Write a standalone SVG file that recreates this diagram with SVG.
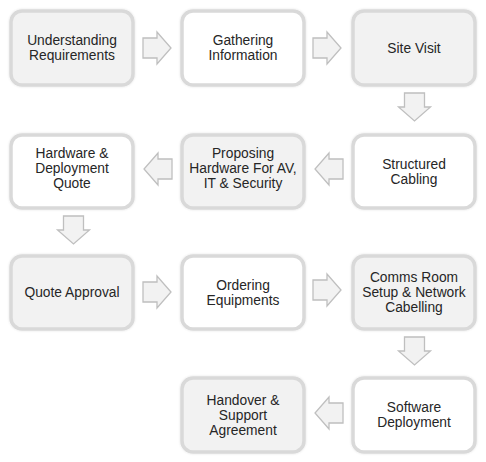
<svg xmlns="http://www.w3.org/2000/svg" width="486" height="462" viewBox="0 0 486 462">
<defs>
<filter id="sh" x="-10%" y="-10%" width="120%" height="120%">
<feGaussianBlur in="SourceAlpha" stdDeviation="1.2" result="b"/>
<feFlood flood-color="#000" flood-opacity="0.12"/>
<feComposite in2="b" operator="in" result="s"/>
<feMerge><feMergeNode in="s"/><feMergeNode in="SourceGraphic"/></feMerge>
</filter>
<path id="ar" d="M0,-10 L14,-10 L14,-16 L28,0 L14,16 L14,10 L0,10 Z"/>
</defs>
<style>
.box{stroke:#d9d9d9;stroke-width:3.5;filter:url(#sh)}
.g{fill:#f2f2f2}
.w{fill:#ffffff}
text{font-family:"Liberation Sans",Arial,sans-serif;font-size:13.8px;fill:#262626;text-anchor:middle}
.arr{fill:#f2f2f2;stroke:#bfbfbf;stroke-width:1.3;stroke-linejoin:miter}
</style>
<rect width="486" height="462" fill="#ffffff"/>
<g id="n1"><rect class="box g" x="11" y="11" width="122" height="74" rx="11"/><text x="72" y="45">Understanding</text><text x="72" y="60">Requirements</text></g>
<g id="n2"><rect class="box w" x="182" y="11" width="122" height="74" rx="11"/><text x="243" y="45">Gathering</text><text x="243" y="60">Information</text></g>
<g id="n3"><rect class="box g" x="353" y="11" width="122" height="74" rx="11"/><text x="414" y="52.5">Site Visit</text></g>
<g id="n4"><rect class="box w" x="353" y="135" width="122" height="73" rx="11"/><text x="414" y="168.5">Structured</text><text x="414" y="183.5">Cabling</text></g>
<g id="n5"><rect class="box g" x="182" y="135" width="122" height="73" rx="11"/><text x="243" y="158">Proposing</text><text x="243" y="173">Hardware For AV,</text><text x="243" y="188">IT &amp; Security</text></g>
<g id="n6"><rect class="box w" x="11" y="135" width="122" height="73" rx="11"/><text x="72" y="158">Hardware &amp;</text><text x="72" y="173">Deployment</text><text x="72" y="188">Quote</text></g>
<g id="n7"><rect class="box g" x="11" y="256" width="122" height="73" rx="11"/><text x="72" y="297">Quote Approval</text></g>
<g id="n8"><rect class="box w" x="182" y="256" width="122" height="73" rx="11"/><text x="243" y="289.5">Ordering</text><text x="243" y="304.5">Equipments</text></g>
<g id="n9"><rect class="box g" x="353" y="256" width="122" height="73" rx="11"/><text x="414" y="282">Comms Room</text><text x="414" y="297">Setup &amp; Network</text><text x="414" y="312">Cabelling</text></g>
<g id="n10"><rect class="box w" x="353" y="378" width="122" height="74" rx="11"/><text x="414" y="412">Software</text><text x="414" y="427">Deployment</text></g>
<g id="n11"><rect class="box g" x="182" y="378" width="122" height="74" rx="11"/><text x="243" y="405">Handover &amp;</text><text x="243" y="420">Support</text><text x="243" y="435">Agreement</text></g>
<g id="connectors">
<use href="#ar" class="arr" transform="translate(143,48)"/>
<use href="#ar" class="arr" transform="translate(313,48)"/>
<use href="#ar" class="arr" transform="translate(414.5,93) rotate(90)"/>
<use href="#ar" class="arr" transform="translate(343,169) rotate(180)"/>
<use href="#ar" class="arr" transform="translate(172,169) rotate(180)"/>
<use href="#ar" class="arr" transform="translate(73.5,216) rotate(90)"/>
<use href="#ar" class="arr" transform="translate(143,292)"/>
<use href="#ar" class="arr" transform="translate(313,290)"/>
<use href="#ar" class="arr" transform="translate(414.5,337) rotate(90)"/>
<use href="#ar" class="arr" transform="translate(343,413) rotate(180)"/>
</g>
</svg>
